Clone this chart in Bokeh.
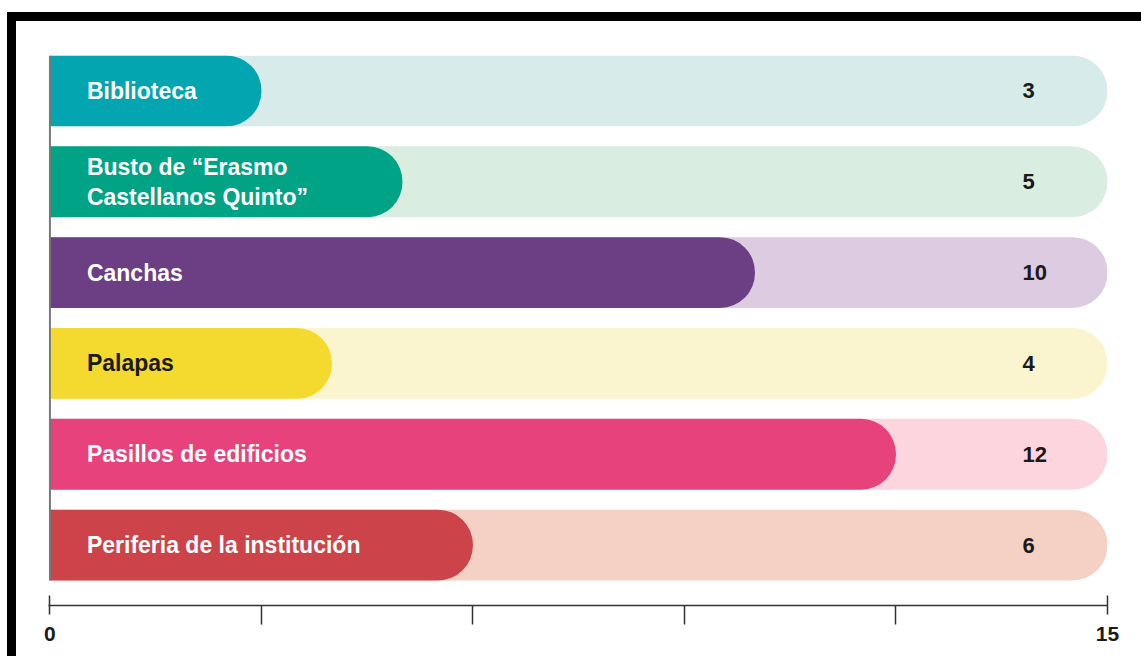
from bokeh.plotting import figure
from bokeh.models import Range1d, FixedTicker, ColumnDataSource, Div
from bokeh.layouts import column, row
from bokeh.core.properties import value
from bokeh.embed import file_html
from bokeh.resources import INLINE

categories = ["Biblioteca", "Busto de \u201cErasmo\nCastellanos Quinto\u201d", "Canchas",
              "Palapas", "Pasillos de edificios", "Periferia de la instituci\u00f3n"]
values = [3, 5, 10, 4, 12, 6]
scale_max = 15
axis_ticks = [0, 15]
axis_minor_ticks = [3, 6, 9, 12]

fg_colors = ["#02A5B0", "#00A385", "#6C3F84", "#F4D92E", "#E8427C", "#CC4449"]
bg_colors = ["#D6EBEA", "#DAEDE1", "#DCCBE1", "#FBF5CF", "#FDD5DF", "#F5D0C5"]
label_colors = ["#FFFFFF", "#FFFFFF", "#FFFFFF", "#1A1A1A", "#FFFFFF", "#FFFFFF"]

n = len(categories)
ypos = [n - i for i in range(n)]
src = ColumnDataSource(dict(
    y=ypos, cat=categories, val=values, vtxt=[str(v) for v in values],
    full=[scale_max] * n, fg=fg_colors, bg=bg_colors, lc=label_colors,
    zero=[0] * n,
))

TOTAL_W, TOTAL_H = 1141, 656
TOP_H, LEFT_W = 21, 16
W, H = TOTAL_W - LEFT_W, TOTAL_H - TOP_H

p = figure(width=W, height=H, output_backend="svg", toolbar_location=None,
           x_range=Range1d(-0.02, scale_max), y_range=Range1d(0.335, n + 0.39),
           y_axis_type=None, min_border_left=32, min_border_right=34,
           min_border_top=34, min_border_bottom=51, margin=(0, 0, 0, 0))
p.outline_line_color = None
p.grid.visible = False
p.background_fill_color = "white"
p.border_fill_color = "white"

BAR_H = 0.78
p.hbar(y="y", left=0, right="full", height=BAR_H, fill_color="bg", line_color=None,
       border_radius=(0, 35, 35, 0), source=src)
p.hbar(y="y", left=0, right="val", height=BAR_H, fill_color="fg", line_color=None,
       border_radius=(0, 35, 35, 0), source=src)

# thin vertical line along the left edge of the bars
p.segment(x0=[0], x1=[0], y0=[ypos[-1] - BAR_H / 2], y1=[ypos[0] + BAR_H / 2],
          line_color="#777777", line_width=2)

p.text(x="zero", y="y", text="cat", x_offset=37, text_baseline="middle", text_align="left",
       text_font=value("Liberation Sans"), text_font_style="bold", text_font_size="23px",
       text_color="lc", text_line_height=1.17, source=src)
p.text(x="full", y="y", text="vtxt", x_offset=-85, text_baseline="middle", text_align="left",
       text_font=value("Liberation Sans"), text_font_style="bold", text_font_size="22px",
       text_color="#1A1A1A", source=src)

ax = p.xaxis[0]
ax.ticker = FixedTicker(ticks=axis_ticks, minor_ticks=axis_minor_ticks)
ax.axis_line_color = "#333333"
ax.axis_line_width = 1.5
ax.major_tick_line_color = "#333333"
ax.major_tick_line_width = 1.5
ax.minor_tick_line_color = "#333333"
ax.minor_tick_line_width = 1.5
ax.major_tick_in = 10
ax.major_tick_out = 9
ax.minor_tick_in = 0
ax.minor_tick_out = 19
ax.major_label_standoff = 2
ax.major_label_text_font = "Liberation Sans"
ax.major_label_text_font_style = "bold"
ax.major_label_text_font_size = "21px"
ax.major_label_text_color = "#1A1A1A"

# black frame bands (top and left) around the chart
top_band = Div(text="", width=TOTAL_W - 7, height=9, margin=(12, 0, 0, 7),
               styles={"background-color": "#000000"})
left_band = Div(text="", width=9, height=H, margin=(0, 0, 0, 7),
                styles={"background-color": "#000000"})
layout = column(top_band, row(left_band, p, spacing=0, margin=(0, 0, 0, 0)),
                spacing=0, margin=(0, 0, 0, 0))

open("out.html", "w").write(file_html(layout, INLINE))
